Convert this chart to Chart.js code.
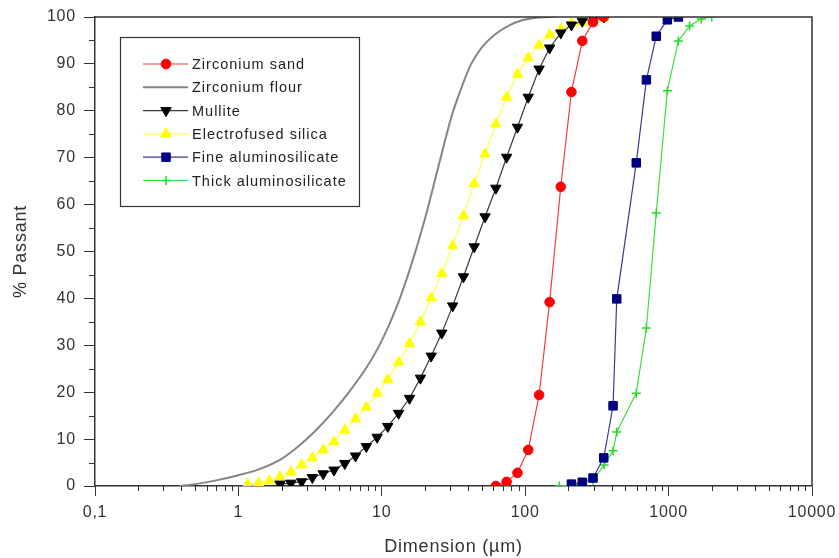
<!DOCTYPE html>
<html>
<head>
<meta charset="utf-8">
<script src="https://cdn.jsdelivr.net/npm/chart.js@4.4.1/dist/chart.umd.min.js"></script>
<style>
  html, body { margin: 0; padding: 0; background: #fff; }
  #wrap { width: 839px; height: 558px; }
</style>
</head>
<body>
<div id="wrap"><canvas id="myChart" width="839" height="558"></canvas></div>
<script>
// particle size (µm) / cumulative % passing
const sandX = [62.4, 74.2, 88.3, 105, 125, 148, 177, 210, 250, 297, 353]
const sandY = [0, 0.9, 2.8, 7.7, 19.4, 39.2, 63.8, 84.0, 94.9, 98.9, 100]

const flourX = [0.39, 0.5, 0.7, 1.0, 1.4, 2.0, 2.7, 3.5, 4.5, 6.0, 7.8, 10, 13, 16, 20, 25, 31, 36, 42, 50, 60, 75, 95, 125, 160]
const flourY = [0, 0.4, 1.2, 2.3, 3.6, 5.8, 8.8, 12.0, 15.6, 20.3, 25.2, 31.0, 39.0, 47.0, 57.0, 68.5, 79.3, 85.0, 90.0, 93.6, 96.0, 98.0, 99.3, 99.9, 100]

const mulliteX = [1.95, 2.32, 2.76, 3.28, 3.90, 4.64, 5.52, 6.56, 7.80, 9.28, 11.0, 13.1, 15.6, 18.6, 22.1, 26.2, 31.2, 37.1, 44.1, 52.5, 62.4, 74.2, 88.3, 105, 125, 148, 177, 210, 250, 297, 353]
const mulliteY = [0.4, 0.6, 0.9, 1.8, 2.6, 3.4, 4.8, 6.4, 8.4, 10.4, 12.7, 15.5, 18.7, 23.0, 27.7, 32.6, 38.4, 44.6, 51.0, 57.4, 63.5, 70.1, 76.5, 82.9, 88.9, 93.4, 96.6, 98.3, 99.1, 99.6, 100]

const silicaX = [1.16, 1.38, 1.64, 1.95, 2.32, 2.76, 3.28, 3.90, 4.64, 5.52, 6.56, 7.80, 9.28, 11.0, 13.1, 15.6, 18.6, 22.1, 26.2, 31.2, 37.1, 44.1, 52.5, 62.4, 74.2, 88.3, 105, 125, 148, 177, 210, 250, 297, 353]
const silicaY = [0.4, 0.6, 1.1, 1.9, 3.0, 4.5, 6.0, 7.7, 9.4, 11.9, 14.3, 16.8, 19.8, 22.7, 26.4, 30.4, 35.0, 40.1, 45.3, 51.2, 57.6, 64.5, 70.8, 77.2, 82.9, 87.8, 91.3, 94.0, 96.2, 97.4, 98.7, 98.9, 99.4, 99.8]

const fineX = [210, 250, 297, 353, 410, 435, 595, 700, 820, 980, 1170]
const fineY = [0.4, 0.8, 1.7, 6.0, 17.1, 39.9, 68.9, 86.6, 95.9, 99.4, 100]

const thickX = [173, 210, 250, 297, 355, 410, 435, 595, 700, 820, 980, 1170, 1400, 1690, 2000]
const thickY = [0, 0.2, 0.5, 1.2, 4.5, 7.5, 11.5, 19.8, 33.7, 58.2, 84.3, 94.9, 98.1, 99.6, 100]

const xTickValues = [0.1, 1, 10, 100, 1000, 10000]
const xTickLabels = ['0,1', '1', '10', '100', '1000', '10000']
const xMinorTicks = [2, 3, 4, 5, 6, 7, 8, 9]
const yMinorTicks = [5, 15, 25, 35, 45, 55, 65, 75, 85, 95]

const FONT = "'Liberation Sans', Arial, sans-serif"
const AXIS = '#333'

const toPoints = (xs, ys) => xs.map((x, i) => ({ x: x, y: ys[i] }))

// the original text is loosely spaced
const spacing = {
  id: 'spacing',
  beforeUpdate(chart) { chart.ctx.letterSpacing = '0.8px' },
  beforeDraw(chart) { chart.ctx.letterSpacing = '0.8px' }
}

// plot frame (top/right) + minor ticks
const framePlugin = {
  id: 'frame',
  afterDraw(chart) {
    const { ctx, chartArea: a, scales } = chart
    ctx.save()
    ctx.strokeStyle = AXIS
    ctx.lineWidth = 1.5
    ctx.beginPath()
    ctx.moveTo(a.left, a.top)
    ctx.lineTo(a.right, a.top)
    ctx.lineTo(a.right, a.bottom)
    ctx.stroke()

    ctx.lineWidth = 1
    ctx.beginPath()
    xTickValues.slice(0, -1).forEach(dec => {
      xMinorTicks.forEach(m => {
        const px = Math.round(scales.x.getPixelForValue(dec * m)) + 0.5
        ctx.moveTo(px, a.bottom)
        ctx.lineTo(px, a.bottom + 5)
      })
    })
    yMinorTicks.forEach(v => {
      const py = Math.round(scales.y.getPixelForValue(v)) + 0.5
      ctx.moveTo(a.left - 6, py)
      ctx.lineTo(a.left, py)
    })
    ctx.stroke()
    ctx.restore()
  }
}

// boxed legend inside the plot
const boxLegend = {
  id: 'boxLegend',
  afterDraw(chart) {
    const ctx = chart.ctx
    const box = { x: 120, y: 37, w: 239, h: 169 }
    ctx.save()
    ctx.fillStyle = '#fff'
    ctx.fillRect(box.x, box.y, box.w, box.h)
    ctx.strokeStyle = AXIS
    ctx.lineWidth = 1.2
    ctx.strokeRect(box.x + 0.5, box.y + 0.5, box.w, box.h)

    ctx.font = '14.5px ' + FONT
    ctx.letterSpacing = '1px'
    ctx.textBaseline = 'middle'
    chart.data.datasets.forEach((ds, i) => {
      const y = box.y + 27 + i * 23.3
      ctx.strokeStyle = ds.borderColor
      ctx.lineWidth = ds.borderWidth
      ctx.beginPath()
      ctx.moveTo(143, y)
      ctx.lineTo(188, y)
      ctx.stroke()
      if (ds.pointRadius > 0) {
        ctx.fillStyle = ds.pointBackgroundColor
        ctx.strokeStyle = ds.pointBorderColor
        ctx.lineWidth = ds.pointBorderWidth
        Chart.helpers.drawPoint(ctx, {
          pointStyle: ds.pointStyle,
          rotation: ds.pointRotation || 0,
          radius: ds.pointRadius,
          borderWidth: ds.pointBorderWidth
        }, 166, y)
      }
      ctx.fillStyle = '#222'
      ctx.fillText(ds.label, 192, y + 1)
    })
    ctx.restore()
  }
}

const series = (label, xs, ys, line, marker, style, radius, extra) => Object.assign({
  label: label,
  data: toPoints(xs, ys),
  borderColor: line,
  borderWidth: 1.2,
  pointBackgroundColor: marker,
  pointBorderColor: marker,
  pointBorderWidth: 1,
  pointStyle: style,
  pointRadius: radius,
  tension: 0
}, extra || {})

new Chart(document.getElementById('myChart'), {
  type: 'line',
  data: {
    datasets: [
      series('Zirconium sand', sandX, sandY, '#f03c3c', '#ff0000', 'circle', 4.8),
      series('Zirconium flour', flourX, flourY, '#858585', '#858585', 'circle', 0,
        { borderWidth: 2, cubicInterpolationMode: 'monotone' }),
      series('Mullite', mulliteX, mulliteY, '#3a3a3a', '#000000', 'triangle', 6, { pointRotation: 180 }),
      series('Electrofused silica', silicaX, silicaY, '#ffff50', '#ffff00', 'triangle', 6),
      series('Fine aluminosilicate', fineX, fineY, '#3a3a90', '#000080', 'rect', 6),
      series('Thick aluminosilicate', thickX, thickY, '#40dd40', '#22dd22', 'cross', 4.5, { pointBorderWidth: 1.5 })
    ]
  },
  options: {
    responsive: false,
    animation: false,
    devicePixelRatio: 1,
    layout: { padding: { left: 0, right: 27, top: 17, bottom: 0 } },
    plugins: {
      legend: { display: false },
      tooltip: { enabled: false }
    },
    scales: {
      x: {
        type: 'logarithmic',
        min: 0.1,
        max: 10000,
        afterBuildTicks: scale => {
          scale.ticks = xTickValues.map(v => ({ value: v }))
        },
        afterFit: scale => {
          scale.height = 72
          scale.paddingLeft = 0
          scale.paddingRight = 0
        },
        ticks: {
          autoSkip: false,
          maxRotation: 0,
          padding: 7,
          color: AXIS,
          font: { family: FONT, size: 16 },
          callback: (value, index) => xTickLabels[index]
        },
        grid: { drawOnChartArea: false, tickLength: 10, color: AXIS, tickColor: AXIS },
        border: { display: true, color: AXIS, width: 1.5 },
        title: {
          display: true,
          text: 'Dimension (µm)',
          color: AXIS,
          font: { family: FONT, size: 18 },
          padding: { top: 4, bottom: 0 }
        }
      },
      y: {
        type: 'linear',
        min: 0,
        max: 100,
        afterFit: scale => {
          scale.width = 95
          scale.paddingTop = 0
          scale.paddingBottom = 0
        },
        ticks: {
          stepSize: 10,
          padding: 8,
          color: AXIS,
          font: { family: FONT, size: 16 }
        },
        grid: { drawOnChartArea: false, tickLength: 11, color: AXIS, tickColor: AXIS },
        border: { display: true, color: AXIS, width: 1.5 },
        title: {
          display: true,
          text: '% Passant',
          color: AXIS,
          font: { family: FONT, size: 18 },
          padding: { top: 10, bottom: 4 }
        }
      }
    }
  },
  plugins: [spacing, framePlugin, boxLegend]
})
</script>
</body>
</html>
